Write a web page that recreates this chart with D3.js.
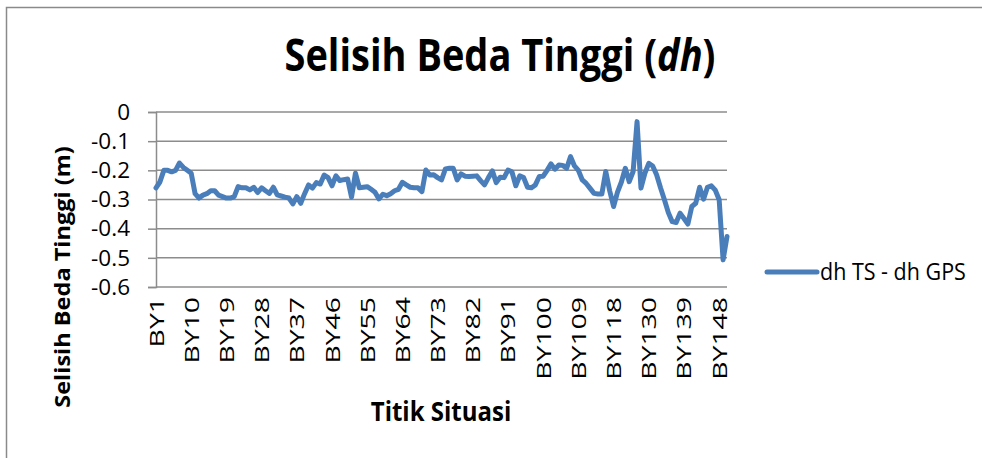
<!DOCTYPE html>
<html>
<head>
<meta charset="utf-8">
<script src="https://cdn.jsdelivr.net/npm/d3@7"></script>
<style>
    body { margin: 0; background: #fff; }
    text { font-family: "Open Sans", sans-serif; }
</style>
</head>
<body>
<div id="chart"></div>
<script>
// category names: BY1..BY150, a few ids are not in the survey
const missingIds = [121, 122, 123];
const categories = d3.range(1, 151).filter(n => !missingIds.includes(n)).map(n => "BY" + n);

// dh TS - dh GPS (m)
const dhValues = [
    -0.26, -0.24, -0.20, -0.20, -0.205, -0.20, -0.175, -0.19, -0.20, -0.21,
    -0.28, -0.295, -0.285, -0.28, -0.27, -0.27, -0.285, -0.29, -0.295, -0.295,
    -0.29, -0.256, -0.26, -0.26, -0.267, -0.258, -0.276, -0.26, -0.27, -0.279,
    -0.258, -0.284, -0.288, -0.292, -0.295, -0.315, -0.29, -0.313, -0.28, -0.25,
    -0.261, -0.242, -0.247, -0.216, -0.225, -0.253, -0.219, -0.235, -0.232, -0.23,
    -0.292, -0.21, -0.26, -0.258, -0.256, -0.265, -0.275, -0.298, -0.282, -0.287,
    -0.28, -0.27, -0.265, -0.241, -0.25, -0.258, -0.26, -0.26, -0.273, -0.199,
    -0.216, -0.215, -0.225, -0.233, -0.195, -0.193, -0.193, -0.233, -0.212, -0.22,
    -0.221, -0.22, -0.219, -0.235, -0.25, -0.225, -0.202, -0.242, -0.224, -0.225,
    -0.199, -0.205, -0.253, -0.219, -0.225, -0.258, -0.26, -0.25, -0.221, -0.22,
    -0.20, -0.178, -0.196, -0.182, -0.183, -0.193, -0.153, -0.185, -0.20, -0.233,
    -0.245, -0.262, -0.279, -0.281, -0.281, -0.204, -0.27, -0.324, -0.275, -0.24,
    -0.193, -0.239, -0.204, -0.033, -0.261, -0.21, -0.176, -0.185, -0.215, -0.26,
    -0.301, -0.345, -0.376, -0.379, -0.347, -0.365, -0.384, -0.324, -0.313, -0.258,
    -0.299, -0.258, -0.253, -0.268, -0.301, -0.507, -0.427
];

const yTicks = [0, -0.1, -0.2, -0.3, -0.4, -0.5, -0.6];
const xLabelStep = 9;
const seriesName = "dh TS - dh GPS";

const width = 982, height = 458;
const plot = { left: 156, right: 727, top: 112, bottom: 287 };
const lineColor = "#4A7EBB";
const gridColor = "#8C8C8C";
const stretch = 1.2; // the picture's text is taller than it is wide

const svg = d3.select("#chart").append("svg")
    .attr("width", width)
    .attr("height", height);

svg.append("rect")
    .attr("width", width).attr("height", height)
    .attr("fill", "#fff");

// chart area border (open on right and bottom, like the crop)
svg.append("rect")
    .attr("x", 6.5).attr("y", 7.5)
    .attr("width", 1000).attr("height", 500)
    .attr("fill", "none")
    .attr("stroke", "#8a8a8a")
    .attr("stroke-width", 1.5);

const x = d3.scalePoint()
    .domain(categories)
    .range([plot.left, plot.right]);

const y = d3.scaleLinear()
    .domain([-0.6, 0])
    .range([plot.bottom, plot.top]);

// gridlines
svg.append("g")
    .selectAll("line")
    .data(yTicks)
    .join("line")
    .attr("x1", plot.left).attr("x2", plot.right)
    .attr("y1", d => y(d)).attr("y2", d => y(d))
    .attr("stroke", gridColor)
    .attr("stroke-width", 1.5);

// y axis
svg.append("g")
    .attr("transform", `translate(${plot.left},0)`)
    .call(d3.axisLeft(y)
        .tickValues(yTicks)
        .tickSize(8)
        .tickPadding(18)
        .tickFormat(d => d === 0 ? "0" : d.toFixed(1)))
    .call(g => g.selectAll("line, path").attr("stroke", gridColor).attr("stroke-width", 1.5))
    .call(g => g.selectAll("text")
        .attr("fill", "#000")
        .style("font-size", "22.5px"));

// x axis labels, every 9th point
const xLabels = categories.filter((d, i) => i % xLabelStep === 0);
svg.append("g")
    .attr("transform", `translate(0,${plot.bottom})`)
    .call(d3.axisBottom(x).tickValues(xLabels).tickSize(0))
    .call(g => g.select(".domain").remove())
    .call(g => g.selectAll("text")
        .attr("transform", "scale(1,1.42) rotate(-90)")
        .attr("x", -7)
        .attr("y", 0)
        .attr("dy", "0.35em")
        .attr("text-anchor", "end")
        .attr("fill", "#000")
        .style("font-size", "20px"));

// series
const line = d3.line()
    .x((d, i) => x(categories[i]))
    .y(d => y(d));

svg.append("path")
    .datum(dhValues)
    .attr("d", line)
    .attr("fill", "none")
    .attr("stroke", lineColor)
    .attr("stroke-width", 5)
    .attr("stroke-linejoin", "round")
    .attr("stroke-linecap", "round");

// titles
const title = svg.append("text")
    .attr("transform", `translate(500,71) scale(1,${stretch})`)
    .attr("text-anchor", "middle")
    .style("font-size", "38px")
    .style("font-weight", "bold");
title.append("tspan").text("Selisih Beda Tinggi (");
title.append("tspan").style("font-style", "italic").text("dh");
title.append("tspan").text(")");

svg.append("text")
    .attr("transform", "translate(70,277) scale(1,1.12) rotate(-90)")
    .attr("text-anchor", "middle")
    .style("font-size", "21px")
    .style("font-weight", "bold")
    .text("Selisih Beda Tinggi (m)");

svg.append("text")
    .attr("transform", `translate(441,421) scale(1,1.1)`)
    .attr("text-anchor", "middle")
    .style("font-size", "24px")
    .style("font-weight", "bold")
    .text("Titik Situasi");

// legend
const legend = svg.append("g").attr("transform", "translate(767,272)");
legend.append("line")
    .attr("x1", 0).attr("x2", 50)
    .attr("stroke", lineColor)
    .attr("stroke-width", 5)
    .attr("stroke-linecap", "round");
legend.append("text")
    .attr("transform", "translate(53,8) scale(1,1.1)")
    .style("font-size", "21.5px")
    .text(seriesName);
</script>
</body>
</html>
